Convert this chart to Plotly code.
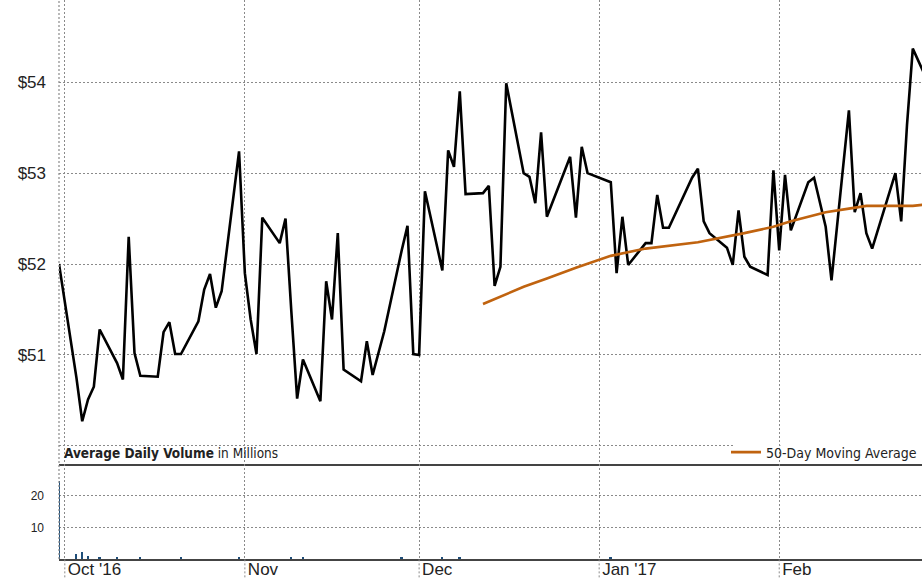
import plotly.graph_objects as go

# Daily closing prices
price_dates = [
    "2016-09-30", "2016-10-03", "2016-10-04", "2016-10-05", "2016-10-06", "2016-10-07",
    "2016-10-10", "2016-10-11", "2016-10-12", "2016-10-13", "2016-10-14",
    "2016-10-17", "2016-10-18", "2016-10-19", "2016-10-20", "2016-10-21",
    "2016-10-24", "2016-10-25", "2016-10-26", "2016-10-27", "2016-10-28",
    "2016-10-31", "2016-11-01", "2016-11-02", "2016-11-03", "2016-11-04",
    "2016-11-07", "2016-11-08", "2016-11-09", "2016-11-10", "2016-11-11",
    "2016-11-14", "2016-11-15", "2016-11-16", "2016-11-17", "2016-11-18",
    "2016-11-21", "2016-11-22", "2016-11-23", "2016-11-25",
    "2016-11-28", "2016-11-29", "2016-11-30", "2016-12-01", "2016-12-02",
    "2016-12-05", "2016-12-06", "2016-12-07", "2016-12-08", "2016-12-09",
    "2016-12-12", "2016-12-13", "2016-12-14", "2016-12-15", "2016-12-16",
    "2016-12-19", "2016-12-20", "2016-12-21", "2016-12-22", "2016-12-23",
    "2016-12-27", "2016-12-28", "2016-12-29", "2016-12-30",
    "2017-01-03", "2017-01-04", "2017-01-05", "2017-01-06",
    "2017-01-09", "2017-01-10", "2017-01-11", "2017-01-12", "2017-01-13",
    "2017-01-17", "2017-01-18", "2017-01-19", "2017-01-20",
    "2017-01-23", "2017-01-24", "2017-01-25", "2017-01-26", "2017-01-27",
    "2017-01-30", "2017-01-31", "2017-02-01", "2017-02-02", "2017-02-03",
    "2017-02-06", "2017-02-07", "2017-02-08", "2017-02-09", "2017-02-10",
    "2017-02-13", "2017-02-14", "2017-02-15", "2017-02-16", "2017-02-17",
    "2017-02-21", "2017-02-22", "2017-02-23", "2017-02-24", "2017-02-27",
]
price_close = [
    52.00, 50.75, 50.27, 50.51, 50.65, 51.28,
    50.91, 50.73, 52.30, 51.02, 50.77,
    50.76, 51.25, 51.36, 51.01, 51.01,
    51.37, 51.72, 51.89, 51.52, 51.70,
    53.24, 51.90, 51.39, 51.01, 52.51,
    52.23, 52.50, 51.48, 50.52, 50.95,
    50.49, 51.81, 51.39, 52.34, 50.84,
    50.71, 51.15, 50.78, 51.26,
    52.15, 52.42, 51.01, 51.00, 52.80,
    51.93, 53.25, 53.07, 53.90, 52.77,
    52.78, 52.86, 51.76, 51.97, 53.99,
    53.00, 52.96, 52.67, 53.45, 52.52,
    53.18, 52.51, 53.29, 53.00,
    52.90, 51.90, 52.52, 51.99,
    52.23, 52.23, 52.76, 52.40, 52.40,
    52.95, 53.05, 52.47, 52.34,
    52.18, 51.99, 52.59, 52.08, 51.97,
    51.88, 53.03, 52.15, 52.98, 52.37,
    52.90, 52.95, 52.68, 52.41, 51.82,
    53.69, 52.57, 52.78, 52.34, 52.17,
    53.00, 52.47, 53.53, 54.37, 53.95,
]

# 50-day moving average
ma_dates = [
    "2016-12-12", "2016-12-19", "2016-12-23", "2016-12-28", "2017-01-03",
    "2017-01-09", "2017-01-18", "2017-01-23", "2017-01-26",
    "2017-01-31", "2017-02-03", "2017-02-06", "2017-02-09", "2017-02-13",
    "2017-02-16", "2017-02-21", "2017-02-24", "2017-02-27",
]
ma_values = [
    51.56, 51.75, 51.84, 51.96, 52.09,
    52.17, 52.24, 52.30, 52.34,
    52.41, 52.47, 52.52, 52.57, 52.61,
    52.64, 52.64, 52.64, 52.66,
]

# Daily volume, millions of shares
vol_dates = [
    "2016-09-30", "2016-10-03", "2016-10-04", "2016-10-05", "2016-10-07",
    "2016-10-10", "2016-10-14", "2016-10-21", "2016-10-31", "2016-11-09",
    "2016-11-11", "2016-11-28", "2016-12-05", "2016-12-08", "2017-01-03",
]
vol_values = [
    24.5, 1.6, 2.3, 1.0, 0.5,
    0.5, 0.4, 0.4, 0.4, 0.4,
    0.4, 0.5, 0.5, 0.5, 0.4,
]

month_ticks = ["2016-10-01", "2016-11-01", "2016-12-01", "2017-01-01", "2017-02-01"]
month_labels = ["Oct '16", "Nov", "Dec", "Jan '17", "Feb"]

price_ticks = [50, 51, 52, 53, 54]
price_labels = ["", "$51", "$52", "$53", "$54"]
vol_ticks = [10, 20]
vol_labels = ["10", "20"]

x_range = ["2016-09-30 00:00", "2017-02-25 14:00"]

PLOT_H = 578 - 19          # plot-area height in px (top margin 0, bottom 19)
split = (PLOT_H - 464) / PLOT_H   # price / volume panel boundary
label_y = (PLOT_H - 452.5) / PLOT_H  # vertical centre of the caption text

GRID = "#8a8a8a"
DOT = "2px,2px"
AXIS = "#444444"
ORANGE = "#c0630f"
NARROW = "DejaVu Sans Condensed, Liberation Sans Narrow, sans-serif"
SANS = "Liberation Sans, Arial, sans-serif"

fig = go.Figure()

fig.add_trace(go.Scatter(
    x=price_dates, y=price_close, mode="lines",
    line=dict(color="#000000", width=2.6),
    xaxis="x", yaxis="y", showlegend=False, hoverinfo="x+y",
))
fig.add_trace(go.Scatter(
    x=ma_dates, y=ma_values, mode="lines",
    line=dict(color=ORANGE, width=2.6),
    name="50-Day Moving Average",
    xaxis="x", yaxis="y", showlegend=True,
))
fig.add_trace(go.Bar(
    x=vol_dates, y=vol_values,
    marker=dict(color="#1f4e79", line=dict(width=0)),
    width=0.3 * 86400000,
    xaxis="x2", yaxis="y2", showlegend=False,
))

# month grid lines continue down through the date-label strip
shapes = []
for d in month_ticks:
    shapes.append(dict(
        type="line", xref="x2", yref="paper", x0=d, x1=d, y0=-0.04, y1=0,
        line=dict(color=GRID, width=1, dash=DOT),
    ))
# dotted left edge of both panels
shapes.append(dict(
    type="line", xref="paper", yref="paper", x0=0, x1=0, y0=0, y1=1,
    line=dict(color=GRID, width=1.2, dash=DOT),
))
# mask the $50 grid line behind the legend entry (the Feb line stays visible)
for x0, x1 in [("2017-01-24 01:00", "2017-01-31 19:00"),
               ("2017-02-01 05:00", "2017-03-01 00:00")]:
    shapes.append(dict(
        type="rect", xref="x", yref="paper", layer="above",
        x0=x0, x1=x1,
        y0=(PLOT_H - 448.5) / PLOT_H, y1=(PLOT_H - 443.5) / PLOT_H,
        fillcolor="white", line=dict(width=0),
    ))

fig.update_layout(
    width=922, height=578,
    margin=dict(l=59, r=0, t=0, b=19),
    paper_bgcolor="white", plot_bgcolor="white",
    bargap=0,
    font=dict(family=SANS, color="#222222"),
    xaxis=dict(
        type="date", domain=[0, 1], anchor="y", range=x_range,
        tickvals=month_ticks, showticklabels=False, ticks="",
        showgrid=True, gridcolor=GRID, griddash=DOT, gridwidth=1,
        showline=True, linecolor=AXIS, linewidth=2, zeroline=False,
        automargin=False,
    ),
    yaxis=dict(
        domain=[split, 1], anchor="x", range=[49.80, 54.905],
        tickvals=price_ticks, ticktext=price_labels, ticks="",
        tickfont=dict(family=SANS, size=17, color="#222222"),
        ticklabelstandoff=12,
        showgrid=True, gridcolor=GRID, griddash=DOT, gridwidth=1,
        showline=False, zeroline=False, automargin=False,
    ),
    xaxis2=dict(
        type="date", domain=[0, 1], anchor="y2", matches="x", range=x_range,
        tickvals=month_ticks, ticktext=month_labels, ticks="",
        ticklabelposition="outside right", ticklabelshift=2,
        ticklabelstandoff=-6,
        tickfont=dict(family=SANS, size=17, color="#222222"),
        showgrid=True, gridcolor=GRID, griddash=DOT, gridwidth=1,
        showline=True, linecolor=AXIS, linewidth=2, zeroline=False,
        automargin=False,
    ),
    yaxis2=dict(
        domain=[0, split], anchor="x2", range=[0, 30],
        tickvals=vol_ticks, ticktext=vol_labels, ticks="",
        tickfont=dict(family=SANS, size=12, color="#222222"),
        ticklabelstandoff=14,
        showgrid=True, gridcolor=GRID, griddash=DOT, gridwidth=1,
        showline=False, zeroline=False, automargin=False,
    ),
    legend=dict(
        x=1, xanchor="right", y=label_y, yanchor="middle",
        bgcolor="rgba(255,255,255,0)", borderwidth=0,
        font=dict(family=NARROW, size=14, color="#222222"),
        itemwidth=30, tracegroupgap=0,
    ),
    shapes=shapes,
    annotations=[dict(
        text="<b>Average Daily Volume</b> in Millions",
        xref="paper", yref="paper", x=0, y=label_y,
        xanchor="left", yanchor="middle", xshift=3,
        showarrow=False,
        font=dict(family=NARROW, size=13.5, color="#222222"),
    )],
)

fig.write_html("out.html")
